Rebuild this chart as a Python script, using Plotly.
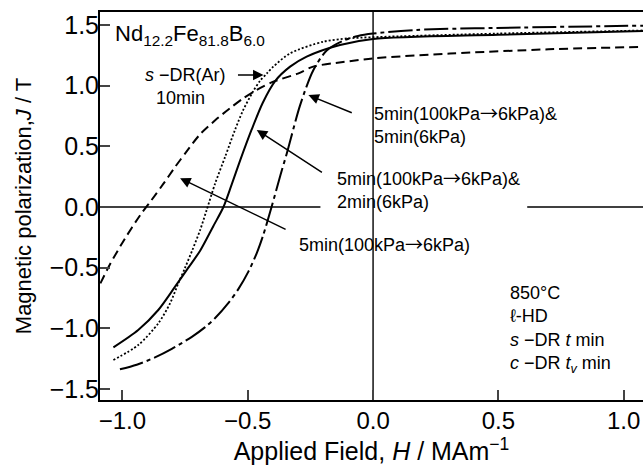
import plotly.graph_objects as go

# ---- data ----
h_dashed = [-1.088, -1.049, -0.99, -0.93, -0.883, -0.837, -0.79, -0.743, -0.69, -0.63, -0.571, -0.518, -0.464, -0.398, -0.30, -0.239, -0.12, 0.0, 0.307, 0.7, 1.077]
j_dashed = [-0.63, -0.47, -0.26, -0.07, 0.06, 0.19, 0.33, 0.46, 0.60, 0.715, 0.814, 0.896, 0.965, 1.033, 1.10, 1.157, 1.195, 1.225, 1.265, 1.30, 1.32]

h_dotted = [-1.036, -0.937, -0.857, -0.810, -0.777, -0.750, -0.721, -0.690, -0.664, -0.63, -0.59, -0.551, -0.518, -0.478, -0.451, -0.424, -0.398, -0.331, -0.198, -0.1, 0.0, 0.5, 1.077]
j_dotted = [-1.261, -1.138, -0.959, -0.794, -0.629, -0.50, -0.355, -0.19, -0.025, 0.195, 0.415, 0.635, 0.80, 0.955, 1.04, 1.10, 1.157, 1.267, 1.363, 1.39, 1.40, 1.43, 1.455]

h_solid = [-1.036, -0.937, -0.857, -0.79, -0.737, -0.69, -0.638, -0.597, -0.565, -0.531, -0.485, -0.44, -0.39, -0.331, -0.265, -0.132, 0.0, 0.5, 1.077]
j_solid = [-1.157, -1.014, -0.849, -0.657, -0.50, -0.36, -0.16, 0.0, 0.18, 0.38, 0.635, 0.86, 1.04, 1.157, 1.24, 1.336, 1.385, 1.42, 1.45]

h_dashdot = [-1.010, -0.943, -0.870, -0.803, -0.723, -0.670, -0.630, -0.577, -0.537, -0.498, -0.464, -0.438, -0.405, -0.37, -0.344, -0.291, -0.238, -0.185, -0.12, -0.06, 0.0, 0.175, 0.6, 1.077]
j_dashdot = [-1.338, -1.300, -1.240, -1.170, -1.070, -0.990, -0.915, -0.790, -0.675, -0.535, -0.38, -0.23, 0.0, 0.26, 0.443, 0.84, 1.13, 1.29, 1.37, 1.41, 1.43, 1.46, 1.48, 1.495]

x_ticks = [-1.0, -0.5, 0.0, 0.5, 1.0]
y_ticks = [-1.5, -1.0, -0.5, 0.0, 0.5, 1.0, 1.5]

FONT = "Liberation Sans, Arial, sans-serif"
ARROW = "<span style=\"font-family:'Noto Sans CJK JP'\">→</span>"

X_RANGE = [-1.0895, 1.077]
Y_RANGE = [-1.591, 1.6076]

fig = go.Figure()
lw = 2.0
fig.add_trace(go.Scatter(x=h_dashed, y=j_dashed, mode="lines", line=dict(color="black", width=lw, dash="9px,5px", shape="spline", smoothing=0.8), name="s-DR(Ar) 10min"))
fig.add_trace(go.Scatter(x=h_dotted, y=j_dotted, mode="lines", line=dict(color="black", width=1.8, dash="2px,2px", shape="spline", smoothing=0.8), name="5min(100kPa→6kPa)"))
fig.add_trace(go.Scatter(x=h_solid, y=j_solid, mode="lines", line=dict(color="black", width=lw, shape="spline", smoothing=0.8), name="5min&2min"))
fig.add_trace(go.Scatter(x=h_dashdot, y=j_dashdot, mode="lines", line=dict(color="black", width=lw, dash="24px,4px,4px,4px", shape="spline", smoothing=0.8), name="5min&5min"))

# zero lines
fig.add_shape(type="line", x0=0, x1=0, y0=Y_RANGE[0], y1=Y_RANGE[1], xref="x", yref="y", line=dict(color="black", width=1.4), layer="below")
fig.add_shape(type="line", x0=X_RANGE[0], x1=-0.21, y0=0, y1=0, xref="x", yref="y", line=dict(color="black", width=1.4), layer="below")
fig.add_shape(type="line", x0=0.615, x1=X_RANGE[1], y0=0, y1=0, xref="x", yref="y", line=dict(color="black", width=1.4), layer="below")

ann_font = dict(family=FONT, size=18, color="black")
anns = [
    dict(x=-1.0375, y=1.418, text="Nd<sub>12.2</sub>Fe<sub>81.8</sub>B<sub>6.0</sub>", xanchor="left", yanchor="middle", showarrow=False, font=dict(family=FONT, size=22, color="black")),
    dict(x=-0.918, y=1.088, text="<i>s</i> −DR(Ar)", xanchor="left", yanchor="middle", showarrow=False, font=ann_font),
    dict(x=-0.77, y=0.90, text="10min", xanchor="center", yanchor="middle", showarrow=False, font=ann_font),
    dict(x=-0.004, y=0.69, text=f"5min(100kPa{ARROW}6kPa)&amp;<br>5min(6kPa)", xanchor="left", yanchor="middle", align="left", showarrow=False, font=ann_font),
    dict(x=-0.152, y=0.157, text=f"5min(100kPa{ARROW}6kPa)&amp;<br>2min(6kPa)", xanchor="left", yanchor="middle", align="left", showarrow=False, font=ann_font),
    dict(x=-0.303, y=-0.297, text=f"5min(100kPa{ARROW}6kPa)", xanchor="left", yanchor="middle", showarrow=False, font=ann_font),
    dict(x=0.539, y=-1.006, text="850°C<br>ℓ-HD<br><i>s</i> −DR <i>t</i> min<br><i>c</i> −DR <i>t<sub>v</sub></i> min", xanchor="left", yanchor="middle", align="left", showarrow=False, font=ann_font),
]
arrows = [
    (-0.437, 1.088, -0.545, 1.088),
    (-0.258, 0.923, -0.079, 0.772),
    (-0.464, 0.635, -0.198, 0.278),
    (-0.77, 0.237, -0.343, -0.19),
]
for hx, hy, tx, ty in arrows:
    anns.append(dict(x=hx, y=hy, ax=tx, ay=ty, xref="x", yref="y", axref="x", ayref="y", text="", showarrow=True,
                     arrowhead=2, arrowsize=1.4, arrowwidth=1.5, arrowcolor="black"))

fig.update_layout(
    width=643, height=475,
    margin=dict(l=100, r=0, t=12, b=75),
    paper_bgcolor="white", plot_bgcolor="white",
    showlegend=False,
    annotations=anns,
    font=dict(family=FONT, color="black"),
)
fig.update_xaxes(range=X_RANGE, tickvals=x_ticks, tickformat=".1f", ticks="inside", ticklen=10, tickwidth=2,
                 showline=True, linewidth=2, linecolor="black", mirror=True, showgrid=False, zeroline=False, automargin=False,
                 tickfont=dict(family=FONT, size=24), ticklabelstandoff=-2,
                 title=dict(text="Applied Field, <i>H</i> / MAm<sup>−1</sup>", font=dict(family=FONT, size=25), standoff=8))
fig.update_yaxes(range=Y_RANGE, tickvals=y_ticks, tickformat=".1f", ticks="inside", ticklen=10, tickwidth=2,
                 showline=True, linewidth=2, linecolor="black", showgrid=False, zeroline=False, automargin=False,
                 tickfont=dict(family=FONT, size=25), ticklabelstandoff=-6,
                 title=dict(text="Magnetic polarization,<i>J</i> / T", font=dict(family=FONT, size=22), standoff=12))

# remove the default 8px page margin so the figure fills the window exactly
fig.write_html("out.html", config={"displayModeBar": False},
               post_script="document.body.style.margin='0';document.body.style.overflow='hidden';")
